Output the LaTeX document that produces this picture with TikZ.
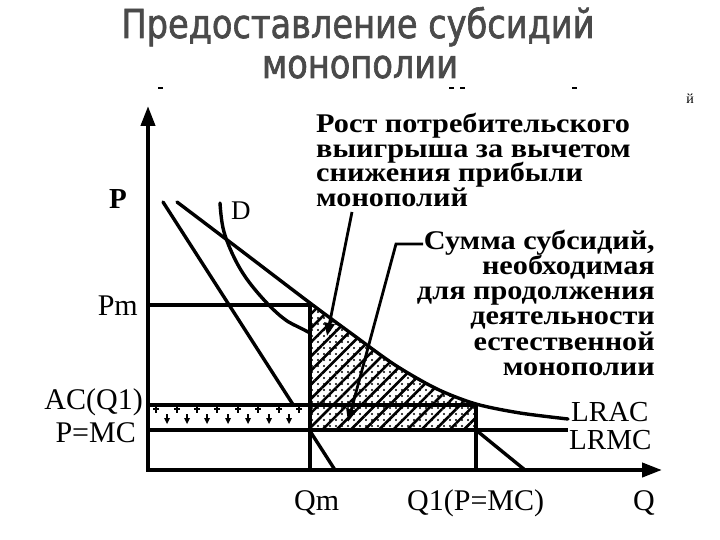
\documentclass[tikz,border=0pt]{standalone}
\usepackage{fontspec}
\setmainfont{Liberation Serif}
\newfontfamily\titlefont[FakeStretch=0.84,FakeBold=1.6]{DejaVu Sans}
\newfontfamily\annotfont[FakeStretch=1.12]{Liberation Serif}
\usetikzlibrary{patterns.meta,arrows.meta}
\definecolor{titlegray}{HTML}{4A4A4A}
\begin{document}
\begin{tikzpicture}[x=1pt,y=-1pt,
  curve/.style={line width=3.4pt, line cap=round, line join=round},
  axisline/.style={line width=4pt, -{Triangle[length=20pt,width=14pt]}},
  lbl/.style={font=\fontsize{30}{30}\selectfont, inner sep=0pt},
  annot/.style={font=\annotfont\bfseries\fontsize{27}{25}\selectfont, inner sep=0pt},
  ttl/.style={font=\titlefont\fontsize{40}{40}\selectfont, text=titlegray, inner sep=0pt},
  pointer/.style={line width=2.8pt, -{Triangle[length=13pt,width=10pt]}},
  thin/.style={line width=3.2pt},
]
\useasboundingbox (0,0) rectangle (720,540);
\fill[white] (0,0) rectangle (720,540);

% title
\node[ttl, anchor=base] (t1) at (358,38) {Предоставление субсидий};
\node[ttl, anchor=base] (t2) at (360,78) {монополии};
\node[font=\fontsize{14}{14}\selectfont, anchor=base, inner sep=0pt] (frag) at (690,104) {й};
\foreach \x in {158,449,460,572} \draw[line width=1.6pt] (\x,88) -- (\x+5,88);

% coordinates
\coordinate (O) at (148,470);
\coordinate (Ytop) at (148,106);
\coordinate (Xend) at (662,470);
\coordinate (PmL) at (148,305);
\coordinate (PmR) at (310,305);
\coordinate (ACL) at (148,405);
\coordinate (ACR) at (476,405);
\coordinate (MCL) at (148,430);
\coordinate (MCR) at (568,430);
\coordinate (QmT) at (310,303);
\coordinate (QmB) at (310,470);
\coordinate (Q1T) at (476,404);
\coordinate (Q1B) at (476,470);

% demand curve D (partly hidden by hatching)
\draw[curve] plot[smooth,tension=0.6] coordinates {(220,203) (224,232) (238,265) (257,292) (283,318) (310,333) (390,376) (445,404) (476,430) (525,470)};

% MR line
\draw[curve] (163,202) -- (335,470);

% hatched area between LRAC and LRMC from Qm to Q1
\begin{scope}
\clip (310,280) rectangle (476,430);
\path[fill=white, postaction={pattern={Lines[angle=45,distance=10pt,line width=2.6pt]}},
  postaction={pattern={Dots[distance=6pt,radius=1.1pt]}}]
  plot[smooth,tension=0.5] coordinates {(177,202) (243,252) (310,303) (352,334) (395,365) (437,389) (476,404) (520,413) (568,419)} -- (568,440) -- (177,440) -- cycle;
\end{scope}

% subsidy strip left of Qm
\fill[white] (148,405) rectangle (310,430);
\foreach \x in {156,177,197,217,238,258,279,299}
  \draw[line width=1.3pt] (\x,406) -- (\x,413) (\x-3,409) -- (\x+3,409);
\foreach \x in {167,187,207,228,248,269,289}{
  \fill (\x-3,418) -- (\x+3,418) -- (\x,424) -- cycle;
  \draw[line width=1.2pt] (\x,414) -- (\x,419);
}

% LRAC
\draw[curve] plot[smooth,tension=0.5] coordinates {(177,202) (243,252) (310,303) (352,334) (395,365) (437,389) (476,404) (520,413) (568,419)};

% horizontal and vertical guide lines
\draw[thin] (PmL) -- (PmR);
\draw[thin] (ACL) -- (ACR);
\draw[thin] (MCL) -- (MCR);
\draw[thin] (QmT) -- (QmB);
\draw[thin] (Q1T) -- (Q1B);

% axes
\draw[axisline] (O) -- (Ytop);
\draw[axisline] (146,470) -- (Xend);

% labels
\node[font=\bfseries\fontsize{29}{29}\selectfont, inner sep=0pt, anchor=base west] (P) at (109,208) {P};
\node[font=\fontsize{27}{27}\selectfont, inner sep=0pt, anchor=base west] (D) at (231,219) {D};
\node[lbl, anchor=base east] (Pm) at (138,315) {Pm};
\node[lbl, anchor=base east] (AC) at (143,409) {AC(Q1)};
\node[lbl, anchor=base east] (PMC) at (136,442) {P=MC};
\node[lbl, anchor=base west] (Qm) at (294,510) {Qm};
\node[lbl, anchor=base west] (Q1) at (407,510) {Q1(P=MC)};
\node[lbl, anchor=base west] (Q) at (633,510) {Q};
\node[lbl, anchor=base west, font=\fontsize{29}{29}\selectfont] (LRAC) at (571,421) {LRAC};
\node[lbl, anchor=base west, font=\fontsize{29}{29}\selectfont] (LRMC) at (569,449) {LRMC};

% annotation 1
\node[annot, anchor=base west] (a1) at (316,133) {Рост потребительского};
\node[annot, anchor=base west] (a2) at (316,157.5) {выигрыша за вычетом};
\node[annot, anchor=base west] (a3) at (316,182) {снижения прибыли};
\node[annot, anchor=base west] (a4) at (316,206.5) {монополий};

% annotation 2
\node[annot, anchor=base east] (b1) at (655,249) {Сумма субсидий,};
\node[annot, anchor=base east] (b2) at (655,274) {необходимая};
\node[annot, anchor=base east] (b3) at (655,299.5) {для продолжения};
\node[annot, anchor=base east] (b4) at (655,324.5) {деятельности};
\node[annot, anchor=base east] (b5) at (655,350) {естественной};
\node[annot, anchor=base east] (b6) at (655,375) {монополии};

% pointers
\coordinate (p1s) at (352,212);
\coordinate (p1e) at (327,336);
\draw[pointer] (p1s) -- (p1e);
\coordinate (p2s) at (423,244);
\coordinate (p2c) at (396,244);
\coordinate (p2e) at (348,422);
\draw[pointer] (p2s) -- (p2c) -- (p2e);
\end{tikzpicture}
\end{document}
